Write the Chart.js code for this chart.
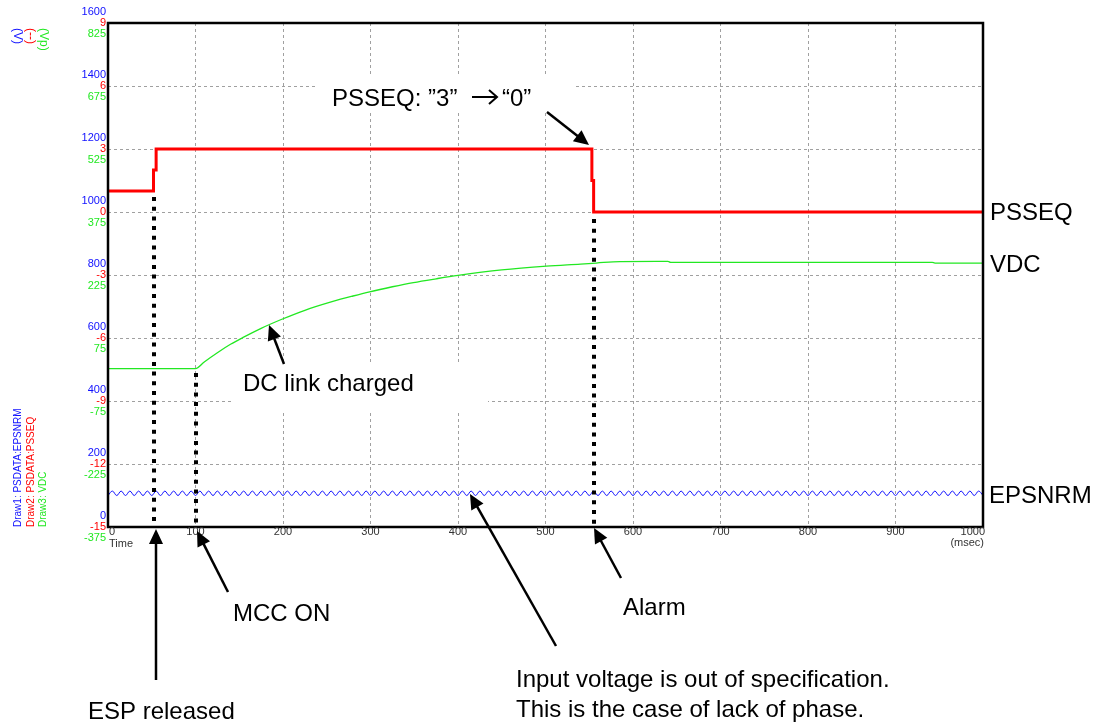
<!DOCTYPE html>
<html>
<head>
<meta charset="utf-8">
<title>PSSEQ / VDC / EPSNRM</title>
<script src="https://cdn.jsdelivr.net/npm/chart.js@4.4.1/dist/chart.umd.min.js"></script>
<style>
  html, body { margin: 0; padding: 0; background: #fff; }
  #wrap { position: relative; width: 1105px; height: 727px; }
</style>
</head>
<body>
<div id="wrap"><canvas id="chart" width="1105" height="727"></canvas></div>
<script>
/* ── Axis ticks ─────────────────────────────── */
const timeTicks  = [0, 100, 200, 300, 400, 500, 600, 700, 800, 900, 1000];
const redTicks   = [-15, -12, -9, -6, -3, 0, 3, 6, 9];
const blueTicks  = [0, 200, 400, 600, 800, 1000, 1200, 1400, 1600];
const greenTicks = [-375, -225, -75, 75, 225, 375, 525, 675, 825];

/* ── Series ─────────────────────────────────── */
// Draw2: PSSEQ (red axis)
const psseqTime  = [0, 52, 52, 55, 55, 553, 553, 555, 555, 1000];
const psseqValue = [1, 1, 2, 2, 3, 3, 1.5, 1.5, 0, 0];

// Draw3: VDC (green axis)
const vdcTime  = [0, 100, 110, 125, 140, 155, 175, 198, 225, 257, 280, 299, 325, 349, 375, 400, 450, 501, 540, 558, 585, 640, 643, 942, 945, 1000];
const vdcValue = [2, 2, 18, 40, 60, 77, 98, 119, 141, 162, 175, 185, 197, 207, 216, 224, 237, 246, 251, 253.5, 257, 257.5, 255, 255, 253.5, 253.5];

// Draw1: EPSNRM (blue axis), one sample every 5 msec
const epsnrmStep = 5;
const epsnrmValue = [
  100, 114, 100, 114, 100, 114, 100, 114, 100, 114, 100, 114, 100, 114, 100, 114, 100, 114, 100, 114,
  100, 114, 100, 114, 100, 114, 100, 114, 100, 114, 100, 114, 100, 114, 100, 114, 100, 114, 100, 114,
  100, 114, 100, 114, 100, 114, 100, 114, 100, 114, 100, 114, 100, 114, 100, 114, 100, 114, 100, 114,
  100, 114, 100, 114, 100, 114, 100, 114, 100, 114, 100, 114, 100, 114, 100, 114, 100, 114, 100, 114,
  100, 114, 100, 114, 100, 114, 100, 114, 100, 114, 100, 114, 100, 114, 100, 114, 100, 114, 100, 114,
  100, 114, 100, 114, 100, 114, 100, 114, 100, 114, 100, 114, 100, 114, 100, 114, 100, 114, 100, 114,
  100, 114, 100, 114, 100, 114, 100, 114, 100, 114, 100, 114, 100, 114, 100, 114, 100, 114, 100, 114,
  100, 114, 100, 114, 100, 114, 100, 114, 100, 114, 100, 114, 100, 114, 100, 114, 100, 114, 100, 114,
  100, 114, 100, 114, 100, 114, 100, 114, 100, 114, 100, 114, 100, 114, 100, 114, 100, 114, 100, 114,
  100, 114, 100, 114, 100, 114, 100, 114, 100, 114, 100, 114, 100, 114, 100, 114, 100, 114, 100, 114,
  100
];

// Event markers (msec)
const eventTimes = [53, 101, 555];

/* ── Colours / fonts ────────────────────────── */
const BLUE  = '#1010ff';
const RED   = '#ff0000';
const GREEN = '#22e822';
const SMALL = '11px "Liberation Sans", Arial, sans-serif';
const TINY  = '10px "Liberation Sans", Arial, sans-serif';
const BIG   = '24px "Liberation Sans", Arial, sans-serif';

/* ── Annotation layout (pixels) ─────────────── */
const eventTops = [197, 373, 219];
const whiteBoxes = [
  { x: 316, y: 76,  w: 258, h: 36 },
  { x: 232, y: 364, w: 256, h: 46 },
];
const notes = [
  { text: 'PSSEQ: \u201D3\u201D', x: 332, y: 106 },
  { text: '\u201C0\u201D', x: 502, y: 106 },
  { text: 'PSSEQ',  x: 990, y: 220 },
  { text: 'VDC',    x: 990, y: 272 },
  { text: 'EPSNRM', x: 989, y: 503 },
  { text: 'DC link charged', x: 243, y: 391 },
  { text: 'MCC ON', x: 233, y: 621 },
  { text: 'Alarm',  x: 623, y: 615 },
  { text: 'ESP released', x: 88, y: 719 },
  { text: 'Input voltage is out of specification.', x: 516, y: 687 },
  { text: 'This is the case of lack of phase.',     x: 516, y: 717 },
];
const arrows = [
  { from: [547, 112], to: [589, 145] },
  { from: [284, 364], to: [269, 325] },
  { from: [156, 680], to: [156, 529] },
  { from: [228, 592], to: [197, 531] },
  { from: [621, 578], to: [594, 528] },
  { from: [556, 646], to: [470, 494] },
];

function drawArrow(ctx, x1, y1, x2, y2) {
  const a = Math.atan2(y2 - y1, x2 - x1);
  const L = 15, W = 7;
  const c = Math.cos(a), s = Math.sin(a);
  ctx.beginPath();
  ctx.moveTo(x1, y1);
  ctx.lineTo(x2 - L * 0.7 * c, y2 - L * 0.7 * s);
  ctx.stroke();
  ctx.beginPath();
  ctx.moveTo(x2, y2);
  ctx.lineTo(x2 - L * c + W * s, y2 - L * s - W * c);
  ctx.lineTo(x2 - L * c - W * s, y2 - L * s + W * c);
  ctx.closePath();
  ctx.fill();
}

/* ── Overlay plugin: labels, frame, notes ───── */
const overlay = {
  id: 'overlay',
  beforeDatasetsDraw(chart) {
    const ctx = chart.ctx;
    ctx.save();
    ctx.fillStyle = '#fff';
    whiteBoxes.forEach(b => ctx.fillRect(b.x, b.y, b.w, b.h));
    ctx.restore();
  },
  afterDatasetsDraw(chart) {
    const ctx = chart.ctx;
    const a = chart.chartArea;
    const x = chart.scales.x;
    ctx.save();
    // event markers
    ctx.strokeStyle = '#000';
    ctx.lineWidth = 4;
    ctx.setLineDash([4, 5.7]);
    eventTimes.forEach((t, i) => {
      const px = Math.round(x.getPixelForValue(t));
      ctx.beginPath();
      ctx.moveTo(px, eventTops[i]);
      ctx.lineTo(px, a.bottom);
      ctx.stroke();
    });
    ctx.setLineDash([]);
    // frame
    ctx.lineWidth = 2.5;
    ctx.strokeRect(a.left, a.top, a.right - a.left, a.bottom - a.top);
    ctx.restore();
  },
  afterDraw(chart) {
    const ctx = chart.ctx;
    const a = chart.chartArea;
    const x = chart.scales.x, yR = chart.scales.yR;
    ctx.save();

    // stacked y tick labels
    ctx.font = SMALL;
    ctx.textAlign = 'right';
    ctx.textBaseline = 'middle';
    redTicks.forEach((v, i) => {
      const py = yR.getPixelForValue(v);
      ctx.fillStyle = BLUE;  ctx.fillText(String(blueTicks[i]), a.left - 2, py - 11);
      ctx.fillStyle = RED;   ctx.fillText(String(v), a.left - 2, py);
      ctx.fillStyle = GREEN; ctx.fillText(String(greenTicks[i]), a.left - 2, py + 11);
    });

    // x tick labels
    ctx.fillStyle = '#333';
    timeTicks.forEach((t, i) => {
      const px = x.getPixelForValue(t);
      ctx.textAlign = i === 0 ? 'left' : (i === timeTicks.length - 1 ? 'right' : 'center');
      ctx.fillText(String(t), i === 0 ? px + 1 : (i === timeTicks.length - 1 ? px + 2 : px), a.bottom + 5);
    });
    ctx.textAlign = 'left';
    ctx.fillText('Time', a.left + 1, a.bottom + 17);
    ctx.textAlign = 'right';
    ctx.fillText('(msec)', a.right + 1, a.bottom + 16);

    // unit labels (top-left, rotated)
    ctx.font = '12px "Liberation Sans", Arial, sans-serif';
    [['(V)', BLUE, 17], ['(--)', RED, 30], ['(Vp)', GREEN, 43]].forEach(([t, c, cx]) => {
      ctx.save();
      ctx.translate(cx, 28);
      ctx.rotate(Math.PI / 2);
      ctx.textAlign = 'left';
      ctx.fillStyle = c;
      ctx.fillText(t, 0, 0);
      ctx.restore();
    });

    // draw legend (bottom-left, rotated)
    ctx.font = TINY;
    [['Draw1: PSDATA:EPSNRM', BLUE, 18], ['Draw2: PSDATA:PSSEQ', RED, 31], ['Draw3: VDC', GREEN, 43]].forEach(([t, c, cx]) => {
      ctx.save();
      ctx.translate(cx, a.bottom);
      ctx.rotate(-Math.PI / 2);
      ctx.textAlign = 'left';
      ctx.fillStyle = c;
      ctx.fillText(t, 0, 0);
      ctx.restore();
    });

    // notes + arrows
    ctx.fillStyle = '#000';
    ctx.strokeStyle = '#000';
    ctx.font = BIG;
    ctx.textAlign = 'left';
    ctx.textBaseline = 'alphabetic';
    notes.forEach(n => ctx.fillText(n.text, n.x, n.y));

    // "→" between ”3” and “0”
    ctx.lineWidth = 2;
    ctx.beginPath();
    ctx.moveTo(472, 97); ctx.lineTo(497, 97);
    ctx.moveTo(489, 90); ctx.lineTo(497, 97); ctx.lineTo(489, 104);
    ctx.stroke();

    ctx.lineWidth = 2.5;
    arrows.forEach(ar => drawArrow(ctx, ar.from[0], ar.from[1], ar.to[0], ar.to[1]));

    ctx.restore();
  }
};

/* ── Chart ──────────────────────────────────── */
const gridStyle = { color: '#a0a0a0', lineWidth: 1, drawTicks: false };
const borderStyle = { display: false, dash: [3, 3] };

new Chart(document.getElementById('chart'), {
  type: 'line',
  data: {
    datasets: [
      {
        label: 'PSSEQ',
        data: psseqTime.map((t, i) => ({ x: t, y: psseqValue[i] })),
        yAxisID: 'yR',
        borderColor: RED, borderWidth: 3,
        borderJoinStyle: 'miter', borderCapStyle: 'butt',
        pointRadius: 0, tension: 0,
      },
      {
        label: 'VDC',
        data: vdcTime.map((t, i) => ({ x: t, y: vdcValue[i] })),
        yAxisID: 'yG',
        borderColor: GREEN, borderWidth: 1.3,
        pointRadius: 0, cubicInterpolationMode: 'monotone',
      },
      {
        label: 'EPSNRM',
        data: epsnrmValue.map((v, i) => ({ x: i * epsnrmStep, y: v })),
        yAxisID: 'yB',
        borderColor: BLUE, borderWidth: 1,
        pointRadius: 0, tension: 0.4,
      },
    ],
  },
  options: {
    responsive: false,
    animation: false,
    events: [],
    layout: { padding: { left: 108, right: 122, top: 23, bottom: 200 } },
    plugins: { legend: { display: false }, tooltip: { enabled: false } },
    scales: {
      x: {
        type: 'linear', min: 0, max: 1000,
        afterBuildTicks: s => { s.ticks = timeTicks.map(v => ({ value: v })); },
        ticks: { display: false },
        grid: gridStyle, border: borderStyle,
      },
      yR: {
        type: 'linear', position: 'left', min: -15, max: 9,
        afterBuildTicks: s => { s.ticks = redTicks.map(v => ({ value: v })); },
        ticks: { display: false },
        grid: gridStyle, border: borderStyle,
      },
      yB: { type: 'linear', display: false, min: blueTicks[0], max: blueTicks[blueTicks.length - 1] },
      yG: { type: 'linear', display: false, min: greenTicks[0], max: greenTicks[greenTicks.length - 1] },
    },
  },
  plugins: [overlay],
});
</script>
</body>
</html>
